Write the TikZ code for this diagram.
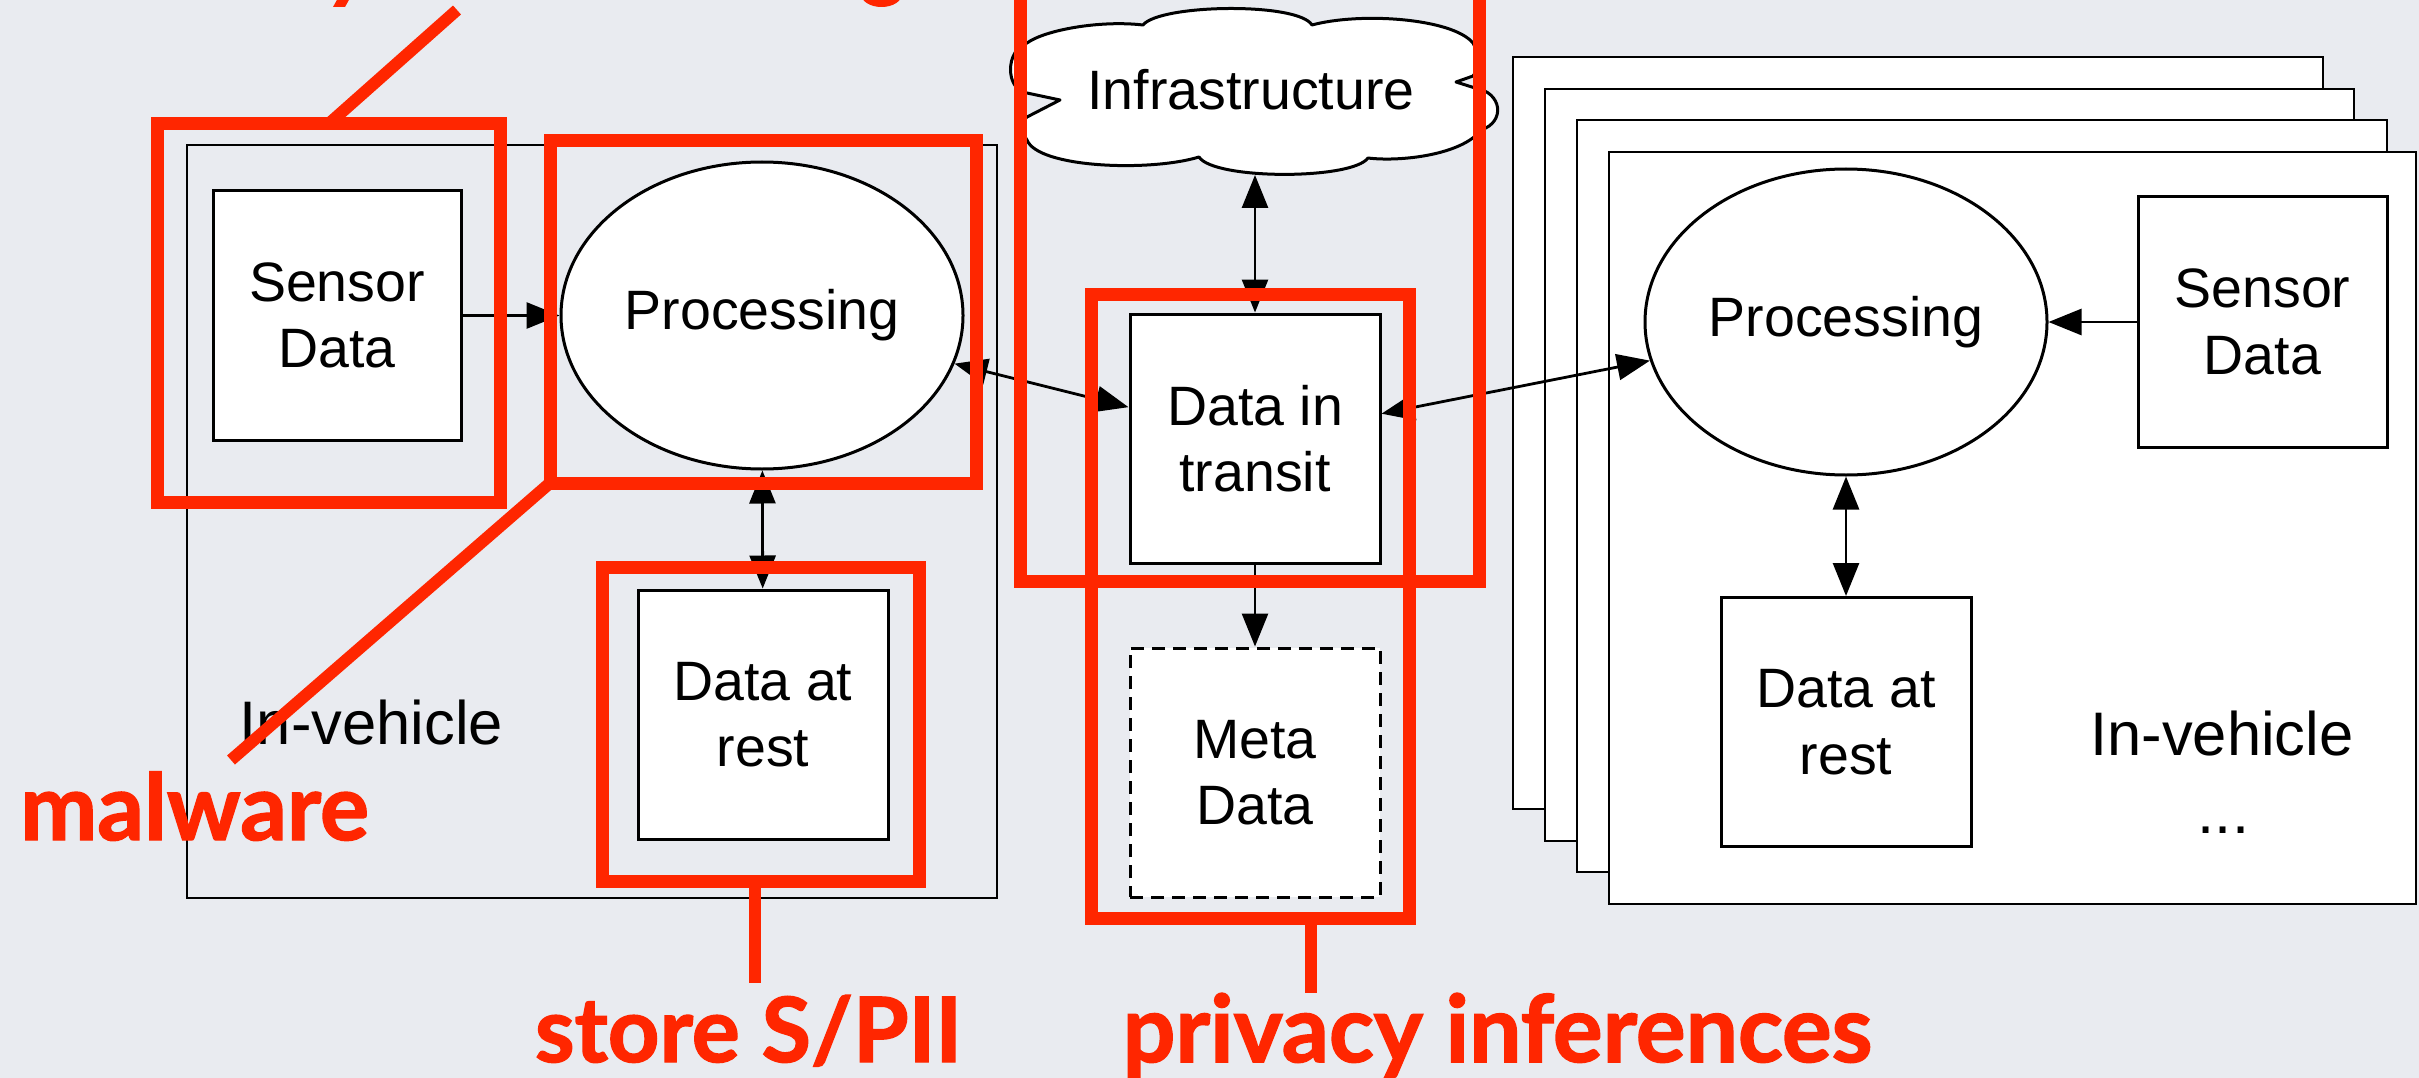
\documentclass[tikz,border=0pt]{standalone}
\usepackage{fontspec}
\setmainfont{Liberation Sans}
\newfontfamily\calloutfont{Lato}[BoldFeatures={FakeBold=1.6}]
\usetikzlibrary{arrows.meta,shapes.geometric}
\definecolor{slide}{RGB}{233,235,240}
\definecolor{alert}{RGB}{255,38,0}
\tikzset{
  lbl/.style={font=\fontsize{55.5}{66.6}\selectfont},
  biglbl/.style={font=\fontsize{61.5}{74}\selectfont},
  stepbox/.style={lbl, draw, fill=white, line width=3pt, align=center, inner sep=0pt,
                  minimum width=250pt, minimum height=249pt},
  procblob/.style={lbl, ellipse, draw, fill=white, line width=3pt, inner sep=0pt,
                   minimum width=402pt, minimum height=307pt},
  vehicle/.style={draw, line width=2.8pt, inner sep=0pt},
  conn/.style={line width=2.8pt, -{Triangle[length=33pt,width=26pt]}},
  biconn/.style={line width=2.8pt, {Triangle[length=33pt,width=26pt]}-{Triangle[length=33pt,width=26pt]}},
  hlbox/.style={draw=alert, line width=13pt, inner sep=0pt, outer sep=0pt},
  leader/.style={draw=alert, line width=12pt},
  callout/.style={text=alert, anchor=base, inner sep=0pt},
  calloutsize/.style={font={\calloutfont\bfseries\fontsize{#1}{#1}\selectfont}},
}
\begin{document}
\begin{tikzpicture}[x=1pt,y=-1pt]
\fill[slide] (0,0) rectangle (2419,1078);
\useasboundingbox (0,0) rectangle (2419,1078);
\clip (0,0) rectangle (2419,1078);

% tails of a label line above the frame
\fill[alert] (333,7) -- (345,7) -- (350,-2) -- (338,-2) -- cycle;
\fill[alert] (881.5,-6) ellipse [x radius=20.5pt, y radius=13pt];

% ---- left vehicle ----
\node[vehicle, line width=2.4pt, minimum width=810pt, minimum height=753pt] (carL) at (592,521.5) {};
\node[biglbl, anchor=base] (vehL) at (371.5,744) {In-vehicle};
\node[stepbox, minimum width=248pt] (sensL) at (337,315.5) {Sensor\\Data};
\node[procblob] (procL) at (762,315.5) {Processing};
\node[stepbox] (restL) at (763,714.5) {Data at\\rest};

% ---- infrastructure cloud ----
\draw[line width=3pt, fill=white, line join=round]
  (1027,43) .. controls (1045,30) and (1100,20) .. (1143,25)
  .. controls (1160,4) and (1298,2) .. (1312,25)
  .. controls (1360,12) and (1452,18) .. (1473,43)
  .. controls (1480,55) and (1480,68) .. (1473,76)
  -- (1456,82) -- (1475,88)
  .. controls (1502,92) and (1506,122) .. (1481,130)
  .. controls (1462,155) and (1400,162) .. (1368,158)
  .. controls (1352,180) and (1214,180) .. (1199,157)
  .. controls (1150,172) and (1038,168) .. (1027,140)
  .. controls (1020,130) and (1021,122) .. (1027,117)
  -- (1060,100) -- (1027,93)
  .. controls (1005,90) and (1005,50) .. (1027,43) -- cycle;
\node[lbl, anchor=base] (infra) at (1251,110) {Infrastructure};
\coordinate (cloudbot) at (1255,175);

\node[stepbox] (transit) at (1255,438.5) {Data in\\transit};
\node[stepbox, dash pattern=on 13pt off 8pt] (meta) at (1255,772.5) {Meta\\Data};

% ---- stack of other vehicles ----
\node[vehicle, fill=white, minimum width=810pt, minimum height=752pt] (car1) at (1918,433) {};
\node[vehicle, fill=white, minimum width=809pt, minimum height=752pt] (car2) at (1949.5,465) {};
\node[vehicle, fill=white, minimum width=810pt, minimum height=752pt] (car3) at (1982,496) {};
\node[vehicle, fill=white, minimum width=807pt, minimum height=752pt] (carR) at (2012.5,528) {};
\node[procblob, minimum height=306pt] (procR) at (1846,322) {Processing};
\node[stepbox, minimum width=249pt, minimum height=250pt] (sensR) at (2262.5,322) {Sensor\\Data};
\node[stepbox] (restR) at (1846,722) {Data at\\rest};
\node[biglbl, anchor=base] (vehR) at (2222,755) {In-vehicle};
\node[biglbl, anchor=base] (dotsR) at (2223.5,833) {...};

% ---- data flows ----
\draw[conn] (sensL) -- (procL);
\draw[biconn] (procL) -- (restL);
\draw[biconn] (procL) -- (transit);
\draw[biconn] (cloudbot) -- (transit);
\draw[conn] (transit) -- (meta);
\draw[biconn] (transit) -- (procR);
\draw[conn] (sensR) -- (procR);
\draw[biconn] (procR) -- (restR);

% ---- threat highlights ----
\node[hlbox, minimum width=343pt, minimum height=378pt] (hlSens) at (328.5,313) {};
\node[hlbox, minimum width=426pt, minimum height=342pt] (hlProc) at (763,312) {};
\node[hlbox, minimum width=317pt, minimum height=314.5pt] (hlStore) at (761,724.25) {};
\node[hlbox, minimum width=459pt, minimum height=621pt] (hlInfra) at (1249.5,270.5) {};
\node[hlbox, minimum width=318pt, minimum height=624.5pt] (hlPriv) at (1250,606.25) {};

\coordinate (sensTip) at (457,10);
\coordinate (malTip) at (231,760);
\coordinate (storeTip) at (755,983);
\coordinate (privTip) at (1311,993);
\draw[leader] (sensTip) -- (hlSens.north);
\draw[leader] (hlProc.south west) -- (malTip);
\draw[leader] (storeTip |- hlStore.south) -- (storeTip);
\draw[leader] (privTip |- hlPriv.south) -- (privTip);

\node[callout, calloutsize=92] (malware) at (194.5,840) {malware};
\node[callout, calloutsize=90] (store) at (748.5,1062) {store S/PII};
\node[callout, calloutsize=93] (privacy) at (1497.5,1062) {privacy inferences};
\end{tikzpicture}
\end{document}
